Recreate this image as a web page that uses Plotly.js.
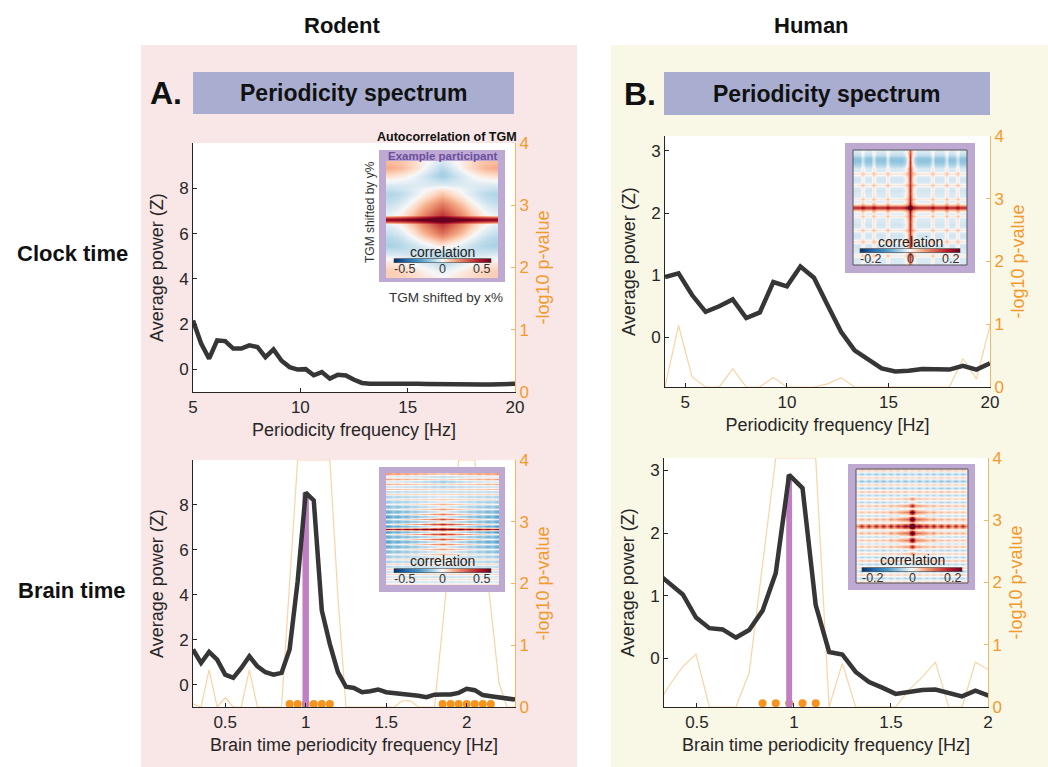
<!DOCTYPE html>
<html>
<head>
<meta charset="utf-8">
<script src="https://cdn.plot.ly/plotly-3.0.1.min.js"></script>
<style>
html,body{margin:0;padding:0;background:#fff}
#chart{width:1048px;height:767px}
</style>
</head>
<body>
<div id="chart"></div>
<script>
// ---------------- Rodent: clock-time periodicity spectrum ----------------
const rodentClockFreq = [5, 5.375, 5.75, 6.125, 6.5, 6.875, 7.25, 7.625, 8, 8.375, 8.75, 9.125, 9.5, 9.875,
  10.25, 10.625, 11, 11.375, 11.75, 12.125, 12.5, 12.875, 13.25, 13.625, 14, 14.375, 14.75, 15.125, 15.5,
  15.875, 16.25, 16.625, 17, 17.375, 17.75, 18.125, 18.5, 18.875, 19.25, 19.625, 20];
const rodentClockPower = [2.16, 1.15, 0.47, 1.28, 1.25, 0.92, 0.92, 1.06, 0.99, 0.54, 0.88, 0.38, 0.10, -0.01,
  0.01, -0.26, -0.12, -0.41, -0.24, -0.27, -0.46, -0.60, -0.64, -0.64, -0.62, -0.60, -0.60, -0.63, -0.64,
  -0.65, -0.66, -0.66, -0.67, -0.68, -0.68, -0.68, -0.67, -0.67, -0.66, -0.65, -0.64];

// ---------------- Rodent: brain-time periodicity spectrum ----------------
const rodentBrainFreq = [0.3, 0.35, 0.4, 0.45, 0.5, 0.55, 0.6, 0.65, 0.7, 0.75, 0.8, 0.85, 0.9, 0.95, 1,
  1.05, 1.1, 1.15, 1.2, 1.25, 1.3, 1.35, 1.4, 1.45, 1.5, 1.55, 1.6, 1.65, 1.7, 1.75, 1.8, 1.85, 1.9, 1.95,
  2, 2.05, 2.1, 2.15, 2.2, 2.25, 2.3];
const rodentBrainPower = [1.56, 0.96, 1.45, 1.11, 0.44, 0.30, 0.74, 1.26, 0.81, 0.55, 0.44, 0.52, 1.56, 4.6,
  8.55, 8.2, 3.3, 1.8, 0.55, -0.1, -0.15, -0.34, -0.3, -0.22, -0.34, -0.38, -0.4, -0.42, -0.5, -0.56, -0.45,
  -0.44, -0.44, -0.37, -0.19, -0.25, -0.47, -0.52, -0.56, -0.62, -0.67];
const rodentBrainLogP = [0.05, 0, 0.6, 0, 0.15, 0, 0, 0.6, 0, 0, 0, 0, 2.0, 4, 4, 4, 4, 4, 1.8, 0, 0, 0, 0,
  0, 0, 0, 0.1, 0.1, 0, 0, 0, 1.3, 2.7, 4, 4, 4, 2.8, 1.6, 0.4, 0, 0];
const rodentBrainSigFreq = [0.9, 0.95, 1, 1.05, 1.1, 1.15, 1.85, 1.9, 1.95, 2, 2.05, 2.1, 2.15];
const rodentPeakFreq = 1;

// ---------------- Human: clock-time periodicity spectrum ----------------
const humanClockFreq = [4, 4.667, 5.333, 6, 6.667, 7.333, 8, 8.667, 9.333, 10, 10.667, 11.333, 12, 12.667,
  13.333, 14, 14.667, 15.333, 16, 16.667, 17.333, 18, 18.667, 19.333, 20];
const humanClockPower = [0.97, 1.03, 0.68, 0.41, 0.50, 0.61, 0.31, 0.40, 0.89, 0.82, 1.14, 0.96, 0.52, 0.09,
  -0.21, -0.36, -0.50, -0.55, -0.54, -0.51, -0.52, -0.52, -0.46, -0.52, -0.42];
const humanClockLogP = [0, 0.98, 0.16, 0, 0, 0.29, 0, 0, 0.15, 0, 0, 0, 0.05, 0.15, 0, 0, 0, 0, 0, 0, 0, 0,
  0.45, 0.13, 0.98];

// ---------------- Human: brain-time periodicity spectrum ----------------
const humanBrainFreq = [0.29, 0.358, 0.427, 0.495, 0.564, 0.632, 0.701, 0.769, 0.838, 0.906, 0.975, 1.044,
  1.112, 1.181, 1.249, 1.318, 1.387, 1.455, 1.524, 1.592, 1.661, 1.729, 1.798, 1.866, 1.935, 2.003];
const humanBrainPower = [1.37, 1.2, 1.02, 0.65, 0.48, 0.46, 0.33, 0.45, 0.76, 1.36, 2.93, 2.72, 0.85, 0.1,
  0.06, -0.22, -0.38, -0.47, -0.57, -0.54, -0.51, -0.5, -0.56, -0.61, -0.52, -0.6];
const humanBrainLogP = [0, 0.35, 0.65, 0.85, 0, 0, 0, 0.55, 2.3, 4, 4, 4, 4, 0, 0.7, 0, 0, 0, 0, 0.27, 0.48,
  0.72, 0, 0, 0.72, 0.6];
const humanBrainSigFreq = [0.838, 0.906, 0.975, 1.044, 1.112];
const humanPeakFreq = 0.975;

// ---------------- TGM autocorrelation insets (row / column profiles) ----------------
// rodent, clock time (example participant): value at centre column and at edges, per row (top -> bottom)
const rcRowCenter = [-0.05, -0.08, -0.1, -0.11, -0.07, -0.03, 0.03, 0.08, 0.13, 0.18, 0.23, 0.28, 0.33, 0.62,
  0.33, 0.28, 0.23, 0.16, 0.09, 0.03, -0.04, -0.08, -0.1, -0.08, -0.05, -0.02, 0.0];
const rcRowEdge = [0.1, 0.12, 0.08, 0.04, 0.0, -0.04, -0.06, -0.09, -0.08, -0.07, -0.05, -0.03, -0.02, 0.48,
  -0.02, -0.04, -0.06, -0.08, -0.09, -0.1, -0.07, -0.04, 0.0, 0.03, 0.05, 0.07, 0.07];
const rcColEnv = [0, 0.06, 0.16, 0.3, 0.48, 0.66, 0.84, 1, 0.84, 0.66, 0.48, 0.3, 0.16, 0.06, 0];
const rcColDots = [1, 1, 1, 1, 1, 1, 1, 1, 1, 1, 1, 1, 1, 1, 1];

// rodent, brain time
const rbRowCenter = [0.08, -0.1, 0.06, -0.15, 0.06, -0.12, 0.05, -0.08, 0.06, -0.06, 0.08, -0.05, 0.12, -0.05,
  0.16, -0.06, 0.22, -0.08, 0.3, -0.1, 0.38, -0.05, 0.6, -0.05, 0.38, -0.1, 0.3, -0.08, 0.22, -0.06, 0.16,
  -0.05, 0.12, -0.05, 0.08, -0.06, 0.06, -0.08, 0.05, -0.1, 0.05, -0.08, 0.04, -0.06, 0.03];
const rbRowEdge = [0.15, -0.05, 0.14, -0.06, 0.12, -0.08, 0.1, -0.1, 0.06, -0.12, 0.03, -0.14, 0.0, -0.18,
  -0.02, -0.22, -0.03, -0.25, -0.03, -0.22, 0.0, -0.28, 0.45, -0.28, 0.0, -0.22, -0.03, -0.25, -0.03, -0.22,
  -0.02, -0.18, 0.0, -0.14, 0.03, -0.12, 0.05, -0.1, 0.06, -0.08, 0.06, -0.06, 0.05, -0.05, 0.04];
const rbColEnv = [0, 0.05, 0.1, 0.16, 0.23, 0.3, 0.38, 0.47, 0.57, 0.67, 0.78, 0.9, 1, 0.9, 0.78, 0.67, 0.57,
  0.47, 0.38, 0.3, 0.23, 0.16, 0.1, 0.05, 0];
const rbColDots = [1, 0.7, 1, 0.7, 1, 0.7, 1, 0.7, 1, 0.7, 1, 0.7, 1, 0.7, 1, 0.7, 1, 0.7, 1, 0.7, 1, 0.7, 1,
  0.7, 1];

// human, clock time (cross-shaped autocorrelation)
const hcRowCenter = [0.1, 0.12, 0.13, 0.13, 0.14, 0.13, 0.14, 0.14, 0.13, 0.14, 0.14, 0.13, 0.14, 0.14, 0.15,
  0.14, 0.15, 0.15, 0.16, 0.18, 0.34, 0.18, 0.16, 0.15, 0.15, 0.14, 0.15, 0.14, 0.14, 0.13, 0.14, 0.14, 0.13,
  0.14, 0.14, 0.13, 0.14, 0.13, 0.13, 0.12, 0.1];
const hcRowEdge = [-0.015, -0.025, -0.045, -0.055, -0.05, -0.035, -0.015, -0.015, 0.015, -0.015, -0.02,
  -0.015, 0.015, -0.015, -0.02, -0.015, -0.015, 0.01, -0.015, 0.02, 0.15, 0.02, -0.015, 0.01, -0.015, -0.015,
  -0.02, -0.015, 0.015, -0.015, -0.02, -0.015, 0.015, -0.015, -0.02, -0.015, -0.015, 0.01, -0.015, -0.015,
  -0.015];
const hcColEnv = [0, 0, 0, 0.18, 0, 0, 0, 0.2, 0, 0, 0, 0, 0.2, 0, 0, 0, 0, 0, 0.05, 0.25, 1, 0.25, 0.05, 0, 0,
  0, 0, 0, 0.2, 0, 0, 0, 0, 0.2, 0, 0, 0, 0.18, 0, 0, 0];
const hcColDots = [1, 1, 1, 1, 1, 1, 1, 1, 1, 1, 1, 1, 1, 1, 1, 1, 1, 1, 1, 1, 1, 1, 1, 1, 1, 1, 1, 1, 1, 1, 1,
  1, 1, 1, 1, 1, 1, 1, 1, 1, 1];

// human, brain time (dotted cross)
const hbRowCenter = [0.02, -0.04, 0.03, -0.05, 0.03, -0.04, 0.04, -0.03, 0.08, -0.02, 0.18, -0.01, 0.25, 0.0,
  0.3, 0.02, 0.45, 0.02, 0.3, 0.0, 0.25, -0.01, 0.18, -0.02, 0.08, -0.03, 0.04, -0.04, 0.03, -0.05, 0.03,
  -0.04, 0.02];
const hbRowEdge = [0.03, -0.05, 0.04, -0.06, 0.04, -0.05, 0.05, -0.04, 0.04, -0.04, 0.05, -0.03, 0.04, -0.04,
  0.05, -0.02, 0.16, -0.02, 0.05, -0.04, 0.04, -0.03, 0.05, -0.04, 0.04, -0.04, 0.05, -0.04, 0.04, -0.05,
  0.04, -0.04, 0.03];
const hbColEnv = [0, 0, 0, 0, 0, 0, 0, 0, 0.03, 0.08, 0.15, 0.05, 0.45, 0.15, 0.7, 1, 0.7, 0.15, 0.45, 0.05,
  0.15, 0.08, 0.03, 0, 0, 0, 0, 0, 0, 0, 0];
const hbColDots = [0.4, 1, 0.4, 1, 0.4, 1, 0.4, 1, 0.4, 1, 0.4, 1, 0.4, 1, 0.4, 1, 0.4, 1, 0.4, 1, 0.4, 1,
  0.4, 1, 0.4, 1, 0.4, 1, 0.4, 1, 0.4];

// ---------------- figure geometry (pixels) ----------------
const W = 1048, H = 767;
const fx = p => p / W;
const fy = p => 1 - p / H;
const FONT = 'Liberation Sans, Arial, Helvetica, sans-serif';
const INK = '#262626';
const ORANGE = '#f29a2e';
const ORANGE_AXIS = '#f5b664';
const ORANGE_LINE = 'rgba(244,170,80,0.5)';
const POWER_LINE = '#363636';
const PEAK_BAR = '#c27ec4';
const FRAME = '#bea9d3';

const panels = {
  rc: {box: [193, 143, 515, 392], xr: [5, 20], yr: [-1, 10], xt: [5, 10, 15, 20], yt: [0, 2, 4, 6, 8]},
  rb: {box: [193, 460, 515, 707], xr: [0.3, 2.3], yr: [-1, 10], xt: [0.5, 1, 1.5, 2], yt: [0, 2, 4, 6, 8]},
  hc: {box: [665, 136, 990, 387], xr: [4, 20], yr: [-0.8, 3.24], xt: [5, 10, 15, 20], yt: [0, 1, 2, 3]},
  hb: {box: [664, 458, 988, 707], xr: [0.33, 2.0], yr: [-0.78, 3.2], xt: [0.5, 1, 1.5, 2], yt: [0, 1, 2, 3]}
};

const tickFont = {family: FONT, size: 17, color: INK};
const titleFont = {family: FONT, size: 18, color: INK};

function xAxisDef(p, anchor, title) {
  return {
    domain: [fx(p.box[0]), fx(p.box[2])], range: p.xr, tickvals: p.xt, anchor: anchor,
    showline: true, linecolor: INK, linewidth: 1, ticks: 'inside', ticklen: 4, tickcolor: INK,
    tickfont: tickFont, showgrid: false, zeroline: false, fixedrange: true, automargin: false,
    title: {text: title, font: titleFont, standoff: 6}
  };
}
function pAxisDef(p, anchor) {
  return {
    domain: [fy(p.box[3]), fy(p.box[1])], range: [0, 4], tickvals: [0, 1, 2, 3, 4], anchor: anchor,
    side: 'right', showline: true, linecolor: ORANGE_AXIS, linewidth: 1, ticks: 'inside', ticklen: 4,
    tickcolor: ORANGE_AXIS, tickfont: {family: FONT, size: 17, color: ORANGE}, showgrid: false,
    zeroline: false, fixedrange: true, automargin: false,
    title: {text: '-log10 p-value', font: {family: FONT, size: 18, color: ORANGE}, standoff: 8}
  };
}
function powerAxisDef(p, anchor, over) {
  return {
    overlaying: over, side: 'left', anchor: anchor, range: p.yr, tickvals: p.yt,
    showline: true, linecolor: INK, linewidth: 1, ticks: 'inside', ticklen: 4, tickcolor: INK,
    tickfont: tickFont, showgrid: false, zeroline: false, fixedrange: true, automargin: false,
    title: {text: 'Average power (Z)', font: titleFont, standoff: 10}
  };
}

// ---------------- inset heatmaps ----------------
const corrScale = [[0, '#053061'], [0.12, '#2166ac'], [0.25, '#4393c3'], [0.37, '#92c5de'],
  [0.45, '#d1e5f0'], [0.5, '#f7f7f7'], [0.55, '#fddbc7'], [0.63, '#f4a582'], [0.75, '#d6604d'],
  [0.88, '#b2182b'], [1, '#67001f']];

function buildMatrix(rowCenter, rowEdge, colEnv, colDots) {
  return rowCenter.map((c, i) => colEnv.map((e, j) => (rowEdge[i] + (c - rowEdge[i]) * e) * colDots[j]));
}

// bar: [left, right, centre y] of the colour bar, title: y of its caption
const insets = [
  {xa: 'x5', ya: 'y9', frame: [379, 150, 505, 282], heat: [386, 161, 498, 278], lim: 0.5,
   bar: [394, 491, 261], title: 252,
   z: buildMatrix(rcRowCenter, rcRowEdge, rcColEnv, rcColDots), border: false},
  {xa: 'x6', ya: 'y10', frame: [379, 467, 505, 592], heat: [386, 473, 499, 585], lim: 0.5,
   bar: [394, 491, 571], title: 561,
   z: buildMatrix(rbRowCenter, rbRowEdge, rbColEnv, rbColDots), border: false},
  {xa: 'x7', ya: 'y11', frame: [845, 143, 975, 273], heat: [853, 150, 967, 265], lim: 0.2,
   bar: [860, 960, 251], title: 242,
   z: buildMatrix(hcRowCenter, hcRowEdge, hcColEnv, hcColDots), border: true},
  {xa: 'x8', ya: 'y12', frame: [848, 464, 975, 590], heat: [856, 469, 968, 583], lim: 0.2,
   bar: [862, 962, 570], title: 560,
   z: buildMatrix(hbRowCenter, hbRowEdge, hbColEnv, hbColDots), border: true}
];

function insetGeom(g) {
  const fw = g.frame[2] - g.frame[0], fh = g.frame[3] - g.frame[1];
  return {
    x0: (g.heat[0] - g.frame[0]) / fw, x1: (g.heat[2] - g.frame[0]) / fw,
    y0: (g.heat[1] - g.frame[1]) / fh, y1: (g.heat[3] - g.frame[1]) / fh
  };
}

// ---------------- traces ----------------
// the right-hand (-log10 p) axis of the clock-time rodent panel carries no curve of its own
const traces = [{type: 'scatter', mode: 'lines', x: [], y: [], xaxis: 'x', yaxis: 'y', hoverinfo: 'skip'}];

function addSpectrum(freq, power, logP, xa, pa, wa) {
  if (logP) {
    traces.push({type: 'scatter', mode: 'lines', x: freq, y: logP, xaxis: xa, yaxis: pa,
      line: {color: ORANGE_LINE, width: 1.2}, hoverinfo: 'skip'});
  }
  traces.push({type: 'scatter', mode: 'lines', x: freq, y: power, xaxis: xa, yaxis: wa,
    line: {color: POWER_LINE, width: 4.5}, hoverinfo: 'skip'});
}
function addPeak(freq, power, peak, width, xa, wa, base) {
  const h = power[freq.indexOf(peak)];
  traces.push({type: 'bar', x: [peak], y: [h - base], base: [base], width: [width], xaxis: xa, yaxis: wa,
    marker: {color: PEAK_BAR, line: {width: 0}}, hoverinfo: 'skip'});
}
function addSig(sig, xa, pa, level) {
  traces.push({type: 'scatter', mode: 'markers', x: sig, y: sig.map(() => level), xaxis: xa, yaxis: pa,
    marker: {color: '#f7941d', size: 8}, cliponaxis: false, hoverinfo: 'skip'});
}

addSpectrum(rodentClockFreq, rodentClockPower, null, 'x', 'y', 'y5');
addPeak(rodentBrainFreq, rodentBrainPower, rodentPeakFreq, 0.04, 'x2', 'y6', panels.rb.yr[0]);
addSpectrum(rodentBrainFreq, rodentBrainPower, rodentBrainLogP, 'x2', 'y2', 'y6');
addSig(rodentBrainSigFreq, 'x2', 'y2', 0.05);
addSpectrum(humanClockFreq, humanClockPower, humanClockLogP, 'x3', 'y3', 'y7');
addPeak(humanBrainFreq, humanBrainPower, humanPeakFreq, 0.03, 'x4', 'y8', panels.hb.yr[0]);
addSpectrum(humanBrainFreq, humanBrainPower, humanBrainLogP, 'x4', 'y4', 'y8');
addSig(humanBrainSigFreq, 'x4', 'y4', 0.06);

insets.forEach(g => {
  const s = insetGeom(g);
  const nr = g.z.length, nc = g.z[0].length;
  const dx = (s.x1 - s.x0) / nc, dy = (s.y1 - s.y0) / nr;
  traces.push({
    type: 'heatmap', z: g.z, x0: s.x0 + dx / 2, dx: dx, y0: s.y0 + dy / 2, dy: dy,
    xaxis: g.xa, yaxis: g.ya, zmin: -g.lim, zmax: g.lim, zsmooth: 'best', colorscale: corrScale,
    hoverinfo: 'skip',
    colorbar: {
      orientation: 'h', x: fx((g.bar[0] + g.bar[1]) / 2), xanchor: 'center', y: fy(g.bar[2]),
      yanchor: 'middle', len: g.bar[1] - g.bar[0], lenmode: 'pixels', thickness: 4,
      thicknessmode: 'pixels', xpad: 0, ypad: 0, outlinewidth: 0.6, outlinecolor: '#444',
      bgcolor: 'rgba(0,0,0,0)', showticklabels: false, ticks: ''
    }
  });
});

// ---------------- layout ----------------
const layout = {
  width: W, height: H, margin: {l: 0, r: 0, t: 0, b: 0},
  paper_bgcolor: '#ffffff', plot_bgcolor: '#ffffff', showlegend: false,
  font: {family: FONT, color: INK},
  xaxis: xAxisDef(panels.rc, 'y', 'Periodicity frequency [Hz]'),
  xaxis2: xAxisDef(panels.rb, 'y2', 'Brain time periodicity frequency [Hz]'),
  xaxis3: xAxisDef(panels.hc, 'y3', 'Periodicity frequency [Hz]'),
  xaxis4: xAxisDef(panels.hb, 'y4', 'Brain time periodicity frequency [Hz]'),
  yaxis: pAxisDef(panels.rc, 'x'),
  yaxis2: pAxisDef(panels.rb, 'x2'),
  yaxis3: pAxisDef(panels.hc, 'x3'),
  yaxis4: pAxisDef(panels.hb, 'x4'),
  yaxis5: powerAxisDef(panels.rc, 'x', 'y'),
  yaxis6: powerAxisDef(panels.rb, 'x2', 'y2'),
  yaxis7: powerAxisDef(panels.hc, 'x3', 'y3'),
  yaxis8: powerAxisDef(panels.hb, 'x4', 'y4'),
  shapes: [],
  annotations: []
};

insets.forEach(g => {
  const yn = 'yaxis' + g.ya.slice(1), xn = 'xaxis' + g.xa.slice(1);
  layout[xn] = {domain: [fx(g.frame[0]), fx(g.frame[2])], range: [0, 1], anchor: g.ya, visible: false,
    fixedrange: true};
  layout[yn] = {domain: [fy(g.frame[3]), fy(g.frame[1])], range: [1, 0], anchor: g.xa, visible: false,
    fixedrange: true};
  layout.shapes.push({type: 'rect', xref: g.xa, yref: g.ya, x0: 0, x1: 1, y0: 0, y1: 1,
    fillcolor: FRAME, line: {width: 0}, layer: 'below'});
  if (g.border) {
    const s = insetGeom(g);
    layout.shapes.push({type: 'rect', xref: g.xa, yref: g.ya, x0: s.x0, x1: s.x1, y0: s.y0, y1: s.y1,
      fillcolor: 'rgba(0,0,0,0)', line: {color: '#555', width: 1}, layer: 'above'});
  }
});

function paperRect(b, color) {
  return {type: 'rect', xref: 'paper', yref: 'paper', x0: fx(b[0]), x1: fx(b[2]), y0: fy(b[3]), y1: fy(b[1]),
    fillcolor: color, line: {width: 0}, layer: 'below'};
}
// column backgrounds, section headers, white plot areas
layout.shapes.unshift(
  paperRect([141, 45, 577, 767], '#f9e7e7'),
  paperRect([611, 45, 1048, 767], '#f9f7e6'),
  paperRect([193, 72, 514, 114], '#a9aed0'),
  paperRect([664, 72, 990, 115], '#a9aed0'),
  paperRect(panels.rc.box, '#ffffff'),
  paperRect(panels.rb.box, '#ffffff'),
  paperRect(panels.hc.box, '#ffffff'),
  paperRect(panels.hb.box, '#ffffff')
);

function label(text, x, y, size, opts) {
  return Object.assign({text: text, x: fx(x), y: fy(y), xref: 'paper', yref: 'paper', showarrow: false,
    xanchor: 'center', yanchor: 'middle', font: {family: FONT, size: size, color: '#111'}}, opts || {});
}
layout.annotations.push(
  label('<b>Rodent</b>', 342, 25, 22),
  label('<b>Human</b>', 811, 25, 22),
  label('<b>A.</b>', 166, 93, 32),
  label('<b>B.</b>', 640, 94, 32),
  label('<b>Periodicity spectrum</b>', 353.5, 93, 23),
  label('<b>Periodicity spectrum</b>', 827, 94, 23),
  label('<b>Clock time</b>', 72, 254, 22),
  label('<b>Brain time</b>', 72, 590, 22),
  label('<b>Autocorrelation of TGM</b>', 447, 137, 12.5),
  label('<b>Example participant</b>', 442, 156, 11.5, {font: {family: FONT, size: 11.5, color: '#6b4f9e'}}),
  label('TGM shifted by x%', 446, 297, 13.5, {font: {family: FONT, size: 13.5, color: '#333'}}),
  label('TGM shifted by y%', 370, 212, 12, {textangle: -90, font: {family: FONT, size: 12, color: '#333'}})
);
// colour-bar captions and scale labels
const cbFont = {family: FONT, size: 12.5, color: '#333'};
insets.forEach(g => {
  const ly = g.bar[2] + 8;
  layout.annotations.push(
    label('correlation', (g.bar[0] + g.bar[1]) / 2, g.title, 14, {font: {family: FONT, size: 14, color: '#222'}}),
    label(String(-g.lim), g.bar[0] - 2, ly, 12.5, {xanchor: 'left', font: cbFont}),
    label('0', (g.bar[0] + g.bar[1]) / 2, ly, 12.5, {font: cbFont}),
    label(String(g.lim), g.bar[1] + 1, ly, 12.5, {xanchor: 'right', font: cbFont})
  );
});

Plotly.newPlot('chart', traces, layout, {staticPlot: true, displayModeBar: false});
</script>
</body>
</html>
